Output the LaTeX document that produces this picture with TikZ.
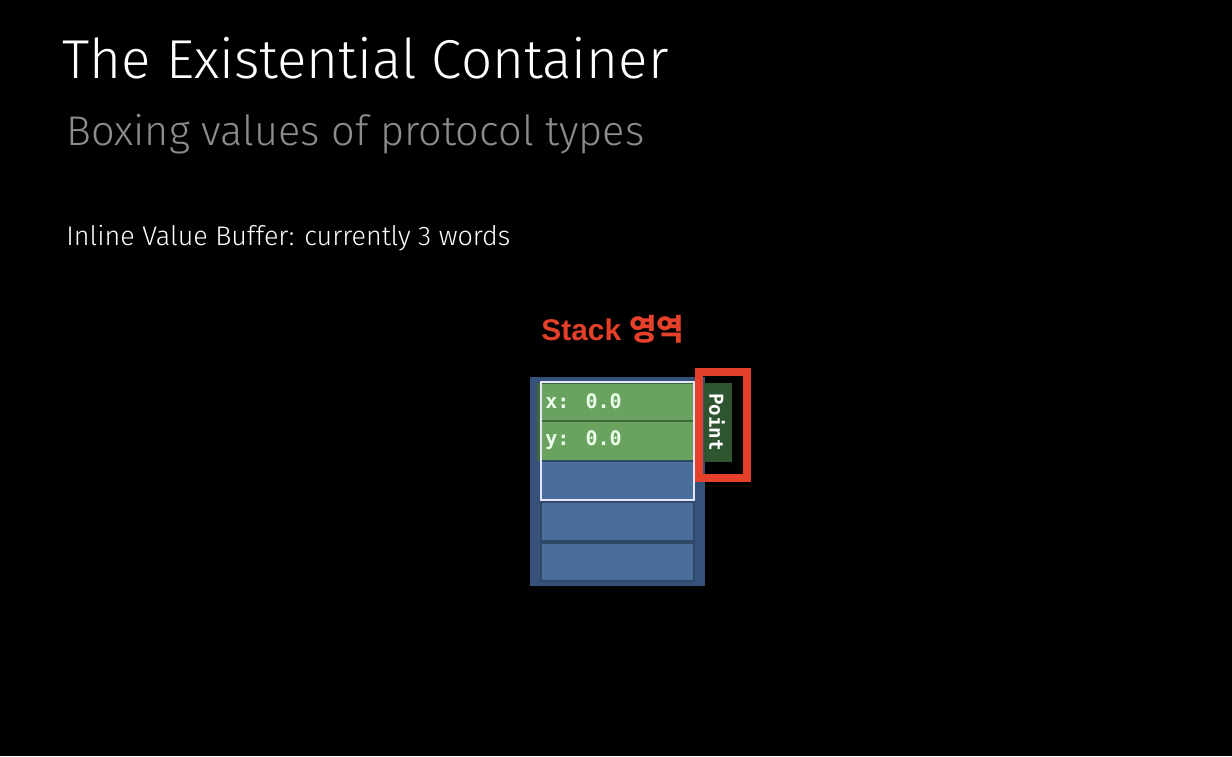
\documentclass[tikz,border=0pt]{standalone}
\usepackage{fontspec}
\setmainfont{Liberation Sans}
\newfontfamily\titlefont{Fira Sans Light}
\newfontfamily\monofont{DejaVu Sans Mono}
\newfontfamily\krfont{Noto Sans CJK KR}
\definecolor{outerblue}{HTML}{36517A}
\definecolor{cellblue}{HTML}{4A6E9B}
\definecolor{sepblue}{HTML}{2F4868}
\definecolor{cellgreen}{HTML}{6AA35F}
\definecolor{sepgreen}{HTML}{3E6A3A}
\definecolor{tagGreen}{HTML}{2E552F}
\definecolor{hlred}{HTML}{E5402A}
\definecolor{subgray}{HTML}{8C8C8C}
\tikzset{
  bluecell/.style={fill=cellblue, draw=sepblue, line width=1pt},
  greencell/.style={fill=cellgreen, draw=sepgreen, line width=1pt},
  celltext/.style={text=white!92!green, font=\monofont\bfseries\fontsize{10}{12}\selectfont, anchor=west, inner sep=0pt},
}
\begin{document}
\begin{tikzpicture}[x=0.5pt, y=-0.5pt]
\useasboundingbox[fill=black] (0,0) rectangle (1232,756);
% titles
\node[anchor=base west, inner sep=0pt, text=white] (title) at (62,78)
  {\resizebox{303pt}{!}{\titlefont The Existential Container}};
\node[anchor=base west, inner sep=0pt, text=subgray] (subtitle) at (66,145)
  {\resizebox{289pt}{!}{\titlefont Boxing values of protocol types}};
\node[anchor=base west, inner sep=0pt, text=white] (buffer) at (66,245)
  {\resizebox{222pt}{!}{\titlefont Inline Value Buffer: currently 3 words}};
% Stack label
\node[anchor=base west, inner sep=0pt, text=hlred] (stacklbl) at (541,340)
  {\resizebox{71.5pt}{!}{\bfseries Stack {\krfont\bfseries 영역}}};
% container
\path[fill=outerblue] (530,377) rectangle (705,586);
\path[fill=sepgreen] (537,383) rectangle (541,461);
\path[greencell] (541,383) rectangle (694,421);
\path[greencell] (541,421) rectangle (694,461);
\path[bluecell] (541,461) rectangle (694,500);
\path[bluecell] (541,502) rectangle (694,541);
\path[bluecell] (541,543) rectangle (694,581);
\draw[white!90!blue, line width=1pt] (541,382) rectangle (694,500);
\node[celltext] (xval) at (545,401) {x: 0.0};
\node[celltext] (yval) at (545,440) {y: 0.0};
% Point tag
\path[fill=tagGreen] (704,383) rectangle (732,462);
\node[rotate=-90, text=white, font=\monofont\bfseries\fontsize{9.6}{11}\selectfont, inner sep=0pt] (point) at (717,422) {Point};
\draw[hlred, line width=4pt] (699,372) rectangle (747,478);
\end{tikzpicture}
\end{document}
